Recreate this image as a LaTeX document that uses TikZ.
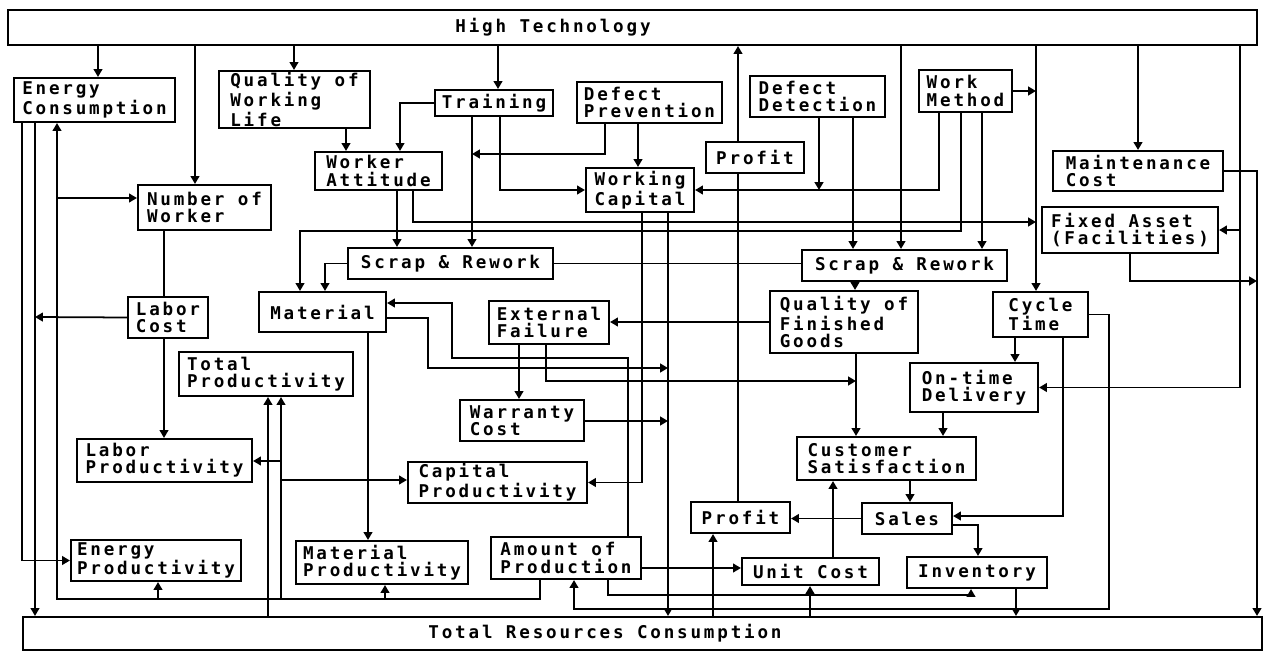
\documentclass[tikz,border=0pt]{standalone}
\usepackage{fontspec}
\newfontfamily\diagfont{DejaVu Sans Mono}[LetterSpace=16]
\usetikzlibrary{arrows.meta}

\newcommand{\factorbox}[6]{%
  \node[block, minimum width={(#4-#2)*0.02cm}, minimum height={(#5-#3)*0.02cm}]
    (#1) at ({(#2+#4)/2},{(#3+#5)/2}) {#6};}

\begin{document}
\begin{tikzpicture}[
    x=0.02cm, y=-0.02cm,
    block/.style={draw, line width=1.2pt, inner sep=0pt, align=left, font=\diagfont\bfseries\fontsize{10}{9.8}\selectfont},
    title/.style={inner sep=0pt, font=\diagfont\bfseries\fontsize{10}{9.8}\selectfont},
    arrow/.style={-{Triangle[length=4.5pt, width=5pt]}, line width=1pt},
    wire/.style={line width=1pt}
]
    \useasboundingbox (0,0) rectangle (1268,652);

    % Top and bottom bars
    \node[block, minimum width={1249*0.02cm}, minimum height={35*0.02cm}] (hitech) at (632.5,27.5) {};
    \node[title] (hitechlbl) at (553,27) {High Technology};
    \node[block, minimum width={1239*0.02cm}, minimum height={33*0.02cm}] (trc) at (642.5,633.5) {};
    \node[title] (trclbl) at (605,633) {Total Resources Consumption};

    % Factors
    \factorbox{energy}{14}{78}{175}{122}{Energy\\Consumption}
    \factorbox{qwl}{219}{71}{370}{128}{Quality of\\Working\\Life}
    \factorbox{attitude}{315}{152}{442}{190}{Worker\\Attitude}
    \factorbox{workers}{138}{185}{271}{230}{Number of\\Worker}
    \factorbox{training}{435}{90}{553}{116}{Training}
    \factorbox{prevent}{577}{82}{722}{123}{Defect\\Prevention}
    \factorbox{detect}{750}{76}{885}{117}{Defect\\Detection}
    \factorbox{method}{919}{70}{1012}{112}{Work\\Method}
    \factorbox{profitT}{706}{142}{804}{173}{Profit}
    \factorbox{capital}{586}{168}{694}{212}{Working\\Capital}
    \factorbox{maint}{1053}{151}{1223}{191}{Maintenance\\Cost}
    \factorbox{fixed}{1042}{207}{1218}{253}{Fixed Asset\\(Facilities)}
    \factorbox{scrapL}{348}{248}{553}{279}{Scrap \& Rework}
    \factorbox{scrapR}{802}{250}{1007}{281}{Scrap \& Rework}
    \factorbox{material}{259}{292}{386}{332}{Material}
    \factorbox{laborcost}{128}{297}{208}{338}{Labor\\Cost}
    \factorbox{extfail}{489}{301}{609}{344}{External\\Failure}
    \factorbox{qfg}{770}{291}{918}{353}{Quality of\\Finished\\Goods}
    \factorbox{cycle}{993}{292}{1088}{337}{Cycle\\Time}
    \factorbox{totprod}{179}{352}{353}{396}{Total\\Productivity}
    \factorbox{ontime}{910}{363}{1038}{412}{On-time\\Delivery}
    \factorbox{warranty}{460}{400}{584}{441}{Warranty\\Cost}
    \factorbox{laborprod}{77}{439}{252}{482}{Labor\\Productivity}
    \factorbox{capprod}{408}{462}{587}{503}{Capital\\Productivity}
    \factorbox{custsat}{797}{437}{976}{480}{Customer\\Satisfaction}
    \factorbox{sales}{862}{503}{952}{534}{Sales}
    \factorbox{profitB}{691}{502}{790}{533}{Profit}
    \factorbox{energyprod}{71}{540}{241}{581}{Energy\\Productivity}
    \factorbox{matprod}{296}{541}{468}{584}{Material\\Productivity}
    \factorbox{amount}{491}{537}{641}{579}{Amount of\\Production}
    \factorbox{unitcost}{742}{558}{879}{585}{Unit Cost}
    \factorbox{inventory}{907}{557}{1047}{588}{Inventory}

    % Junctions on trunk lines
    \coordinate (jfix) at (1240,230);
    \coordinate (jcyc) at (1036,91);
    \coordinate (jfa)  at (1257,281);
    \coordinate (jlab) at (35,317);
    \coordinate (jnw)  at (57,198);
    \coordinate (jep)  at (158,599);
    \coordinate (jtp)  at (281,599);
    \coordinate (jmp)  at (385,599);
    \coordinate (jlp)  at (281,461);
    \coordinate (jcp)  at (281,480);
    \coordinate (jtr)  at (472,154);
    \coordinate (jct)  at (1036,222);
    \coordinate (jwc)  at (819,190);
    \coordinate (jm)   at (668,368);
    \coordinate (jw)   at (668,421);
    \coordinate (jcs)  at (856,381);

    % From High Technology
    \draw[arrow] (hitech.south -| 98,0) -- (energy.north -| 98,0);
    \draw[arrow] (hitech.south -| 195,0) -- (workers.north -| 195,0);
    \draw[arrow] (hitech.south -| 294,0) -- (qwl.north -| 294,0);
    \draw[arrow] (hitech.south -| 498,0) -- (training.north -| 498,0);
    \draw[arrow] (hitech.south -| 901,0) -- (scrapR.north -| 901,0);
    \draw[arrow] (hitech.south -| 1036,0) -- (cycle.north -| 1036,0);
    \draw[arrow] (hitech.south -| 1138,0) -- (maint.north -| 1138,0);
    \draw[arrow] (hitech.south -| 1240,0) |- (ontime.east);
    \draw[arrow] (jfix) -- (fixed.east |- jfix);
    \draw[arrow] (profitT.north -| 738,0) -- (hitech.south -| 738,0);
    \draw[wire] (profitB.north -| 738,0) -- (profitT.south -| 738,0);

    % Right side
    \draw[arrow] (method.east |- jcyc) -- (jcyc);
    \draw[arrow] (maint.east) -| (trc.north -| 1257,0);
    \draw[arrow] (fixed.south -| 1130,0) |- (jfa);

    % Left side
    \draw[arrow] (energy.south -| 22,0) |- (energyprod.west);
    \draw[arrow] (energy.south -| 35,0) -- (trc.north -| 35,0);
    \draw[arrow] (laborcost.west) -- (jlab);
    \draw[arrow] (amount.south -| 540,0) -- (540,599) -| (energy.south -| 57,0);
    \draw[arrow] (jnw) -- (workers.west |- jnw);
    \draw[arrow] (jep) -- (energyprod.south -| jep);
    \draw[arrow] (jtp) -- (totprod.south -| jtp);
    \draw[arrow] (jmp) -- (matprod.south -| jmp);
    \draw[arrow] (jlp) -- (laborprod.east |- jlp);
    \draw[arrow] (jcp) -- (capprod.west |- jcp);
    \draw[arrow] (trc.north -| 268,0) -- (totprod.south -| 268,0);
    \draw[wire] (workers.south -| 164,0) -- (laborcost.north -| 164,0);
    \draw[arrow] (laborcost.south -| 164,0) -- (laborprod.north -| 164,0);

    % Middle upper
    \draw[arrow] (qwl.south -| 346,0) -- (attitude.north -| 346,0);
    \draw[arrow] (training.west) -| (attitude.north -| 400,0);
    \draw[arrow] (training.south -| 472,0) -- (scrapL.north -| 472,0);
    \draw[arrow] (training.south -| 500,0) |- (capital.west);
    \draw[arrow] (prevent.south -| 605,0) |- (jtr);
    \draw[arrow] (prevent.south -| 638,0) -- (capital.north -| 638,0);
    \draw[arrow] (attitude.south -| 397,0) -- (scrapL.north -| 397,0);
    \draw[arrow] (attitude.south -| 413,0) |- (jct);
    \draw[arrow] (method.south -| 961,0) -- (961,231) -| (material.north -| 300,0);
    \draw[arrow] (method.south -| 939,0) |- (capital.east);
    \draw[arrow] (detect.south -| 819,0) -- (jwc);
    \draw[arrow] (detect.south -| 853,0) -- (scrapR.north -| 853,0);
    \draw[arrow] (method.south -| 982,0) -- (scrapR.north -| 982,0);
    \draw[arrow] (scrapL.west) -| (material.north -| 325,0);
    \draw[wire] (scrapL.east) -- (scrapR.west |- scrapL.east);

    % Middle lower
    \draw[arrow] (capital.south -| 668,0) -- (trc.north -| 668,0);
    \draw[arrow] (capital.south -| 642,0) |- (capprod.east);
    \draw[arrow] (amount.north -| 628,0) -- (628,358) -| (452,303) -- (material.east |- 0,303);
    \draw[arrow] (material.east |- 0,318) -| (428,368) -- (jm);
    \draw[arrow] (material.south -| 368,0) -- (matprod.north -| 368,0);
    \draw[arrow] (qfg.west) -- (extfail.east |- qfg.west);
    \draw[arrow] (extfail.south -| 519,0) -- (warranty.north -| 519,0);
    \draw[arrow] (extfail.south -| 546,0) |- (jcs);
    \draw[arrow] (warranty.east |- jw) -- (jw);
    \draw[arrow] (scrapR.south -| 855,0) -- (qfg.north -| 855,0);
    \draw[arrow] (qfg.south -| 856,0) -- (custsat.north -| 856,0);
    \draw[arrow] (cycle.south -| 1015,0) -- (ontime.north -| 1015,0);
    \draw[arrow] (cycle.south -| 1063,0) |- (sales.east |- 0,516);
    \draw[arrow] (cycle.east) -| (1109,609) -| (amount.south -| 574,0);
    \draw[arrow] (amount.south -| 608,0) -- (608,595) -| (inventory.south -| 971,0);
    \draw[arrow] (amount.east |- 0,568) -- (unitcost.west |- 0,568);
    \draw[arrow] (trc.north -| 810,0) -- (unitcost.south -| 810,0);
    \draw[arrow] (trc.north -| 713,0) -- (profitB.south -| 713,0);
    \draw[arrow] (unitcost.north -| 833,0) -- (custsat.south -| 833,0);
    \draw[arrow] (sales.west) -- (profitB.east |- sales.west);
    \draw[arrow] (custsat.south -| 910,0) -- (sales.north -| 910,0);
    \draw[arrow] (ontime.south -| 943,0) -- (custsat.north -| 943,0);
    \draw[arrow] (sales.east |- 0,525) -| (inventory.north -| 978,0);
    \draw[arrow] (inventory.south -| 1016,0) -- (trc.north -| 1016,0);

\end{tikzpicture}
\end{document}
